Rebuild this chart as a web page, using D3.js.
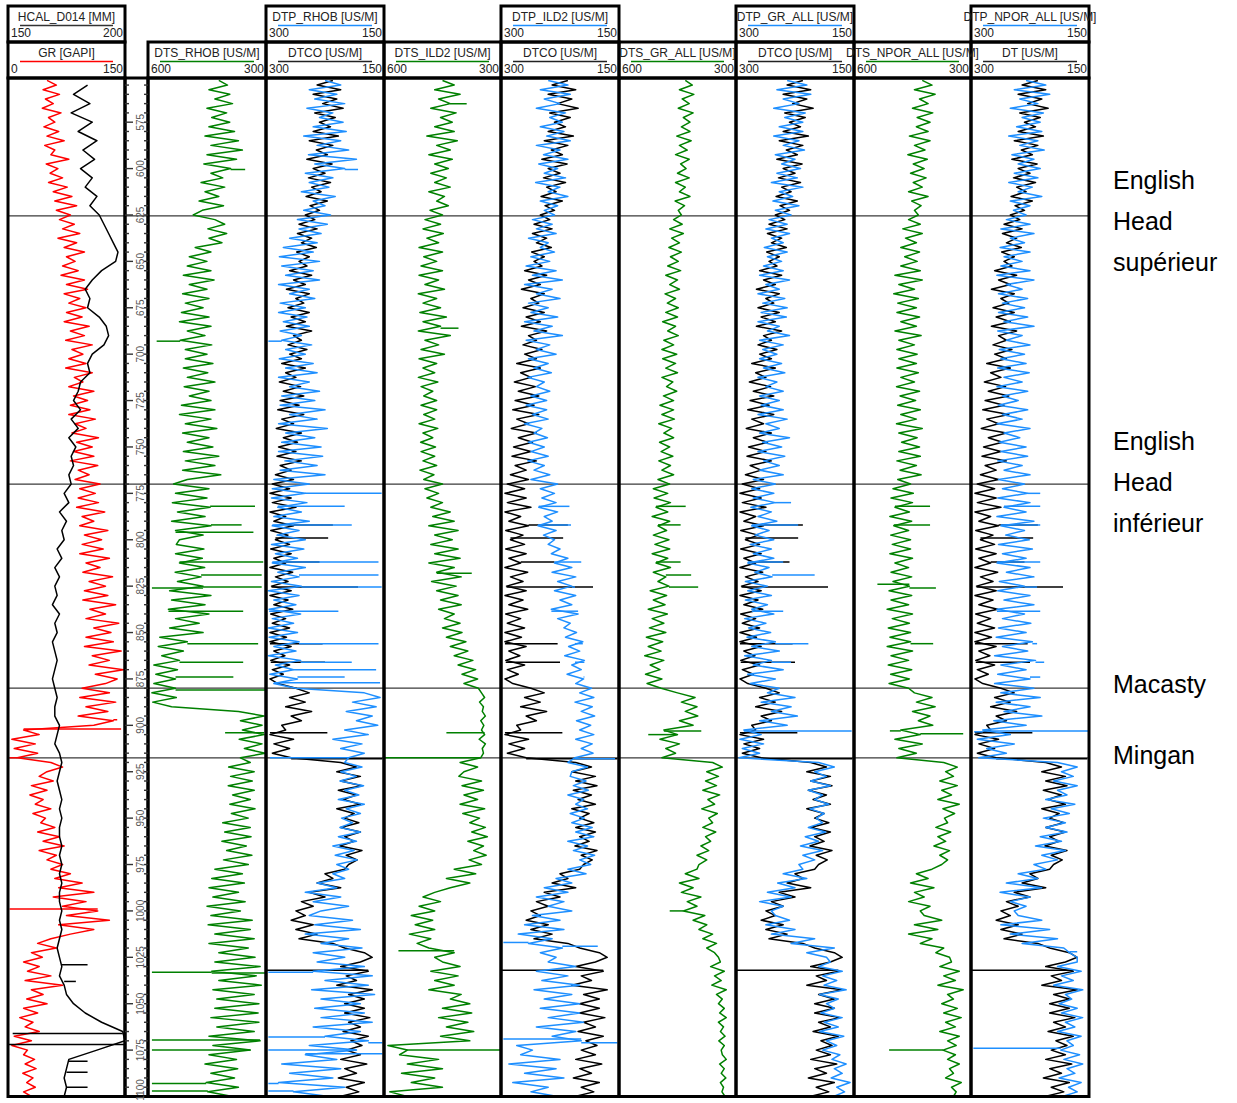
<!DOCTYPE html>
<html>
<head>
<meta charset="utf-8">
<script src="https://cdn.jsdelivr.net/npm/d3@7"></script>
<style>
  body { margin: 0; background: #fff; }
  svg text { font-family: "Liberation Sans", Arial, sans-serif; }
</style>
</head>
<body>
<svg id="chart" width="1237" height="1103"></svg>
<script>
// sonic logs sampled every 2.5 m from 552.5 m, caliper every 5 m from 555 m
const fineTop = 552.5, fineStep = 2.5;
const calTop = 555, calStep = 5;

const GR = [
  50,62,45,66,48,58,44,68,52,60, 46,65,50,72,47,60,55,78,49,64, 54,70,52,76,58,82,60,88,62,80,
  66,85,70,92,64,88,72,98,75,86, 70,90,68,98,75,102,72,92,78,100, 75,95,72,104,80,98,74,108,82,96,
  78,100,74,108,85,96,78,110,84,102, 80,105,78,112,86,100,82,116,88,108, 84,110,80,115,90,104,86,118,92,112,
  90,116,88,124,95,110,92,128,98,120, 95,122,92,130,100,118,96,134,104,125, 98,128,96,138,105,125,100,142,110,132,
  100,135,98,145,108,130,104,148,112,140, 125,95,130,92,138,100,128,90,135,110, 20,40,5,35,8,38,12,55,70,50,
  40,58,30,50,28,45,35,55,32,48, 42,60,38,66,45,72,40,62,50,70, 55,80,60,95,65,110,58,100,70,115,
  75,130,65,110,80,55,38,62,30,44, 20,40,25,55,22,70,30,45,24,50, 20,38,15,32,22,40,8,30,5,25,
  20,34,22,36,19,32,24,35,20,30];
const HCAL = [184,178,185, 177,186,180,188, 182,187,181, 186,183,188,185,189, 191,193,195,
  197,196,190, 186,183,185, 184,189,192, 193,191,186, 184,185,181,
  180,178,181,177,180,176,179,177,178,176, 177,174,176,172,175,173, 174,171,173,170,172,170,
  171,169,172,170,171,169, 170,171,170,169,170,171,170,170,172,171,170,172,
  173,172,171,172,173,172,173,172,172,173,172,173,172,173,172,172,173,
  172,173,172,171,172,173, 172,174,175, 178,183,190, 199,200, 188,176,175, 174,175,174];
const DTS_RHOB = [
  420,398,445,392,430,385,450,400,438,392, 445,380,455,370,440,360,450,375,458,390,
  440,410,465,405,455,420,470,408,462,485, 430,405,448,400,445,412,480,440,495,450,
  500,440,510,432,495,450,512,445,505,460, 515,445,520,440,500,455,518,438,505,450,
  505,435,510,448,500,430,508,445,495,440, 515,430,520,440,505,425,512,445,500,435,
  510,420,505,430,512,415,500,535,445,530, 450,538,442,525,455,540,440,530,460,520,
  528,458,530,462,520,456,531,465,525,460, 545,440,540,455,548,445,530,470,545,460,
  570,500,574,510,565,520,585,525,580,530, 585,530,590,528,588,540,370,305,365,310,
  360,305,368,310,355,302,365,340,395,330, 390,335,396,330,385,340,392,328,388,345,
  410,340,405,338,412,350,400,336,408,345, 430,360,438,355,445,370,435,353,450,365,
  440,335,447,340,430,330,445,345,420,328, 430,315,438,325,420,312,435,330,425,318,
  430,320,440,318,425,330,445,315,435,340, 445,375,455,372,440,380,452,370,448,385];
const DTCO = [
  215,235,205,240,210,228,202,238,212,232, 218,240,208,245,215,236,222,248,216,240,
  225,246,218,242,230,249,222,244,232,250, 238,258,235,260,242,255,236,261,245,258,
  248,270,242,265,250,274,245,262,252,272, 245,268,250,274,242,265,255,272,248,270,
  255,280,250,275,262,283,256,278,252,282, 258,285,252,280,265,287,255,278,260,284,
  262,286,255,282,268,288,265,292,270,295, 268,292,262,295,275,290,265,294,272,288,
  270,294,268,290,275,295,266,288,272,293, 268,295,272,290,266,294,275,292,270,295,
  274,295,268,290,276,294,270,292,278,295, 285,262,245,270,250,275,242,268,255,280,
  275,295,265,290,270,292,268,205,185,210, 180,205,178,208,185,202,180,210,188,200,
  182,205,180,200,188,206,178,198,184,195, 200,225,215,235,205,245,225,255,240,262,
  250,268,240,262,235,258,215,200,175,165, 180,205,170,198,185,210,165,195,175,200,
  175,200,168,195,180,202,170,192,178,198, 180,205,172,200,185,208,175,198,182,206];
const DTP_RHOB = [
  225,205,245,210,238,200,248,215,232,202, 240,198,252,205,235,195,246,185,238,200,
  250,215,245,220,255,212,240,225,252,218, 260,222,258,230,270,235,278,240,283,232,
  280,240,275,232,284,245,270,238,282,250, 284,248,278,245,282,255,280,242,275,250,
  283,240,275,235,284,245,270,232,280,238, 282,225,270,235,284,222,275,238,280,230,
  284,228,276,235,282,225,290,245,292,250, 293,248,285,255,290,245,292,258,286,250,
  293,252,288,260,292,250,285,258,293,255, 297,258,290,262,296,256,292,265,297,260,
  296,258,290,262,297,256,288,265,295,260, 290,262,175,155,190,160,198,165,185,158,
  200,170,215,178,205,175,195,200,178,205, 185,206,176,200,182,208,175,198,180,204,
  190,206,180,208,185,215,188,212,184,210, 195,215,200,235,210,250,205,240,195,230,
  245,190,238,180,250,195,230,178,240,200, 235,175,240,165,225,170,242,162,230,180,
  238,175,230,165,240,180,225,170,245,185, 250,210,280,205,270,215,284,200,265,220];
const DTS_ILD2 = [
  450,420,470,405,460,430,480,415,455,425, 470,420,490,412,465,430,485,425,470,435,
  480,440,470,430,485,445,465,435,482,450, 495,455,500,448,490,460,510,450,498,465,
  505,450,510,460,495,445,512,465,500,455, 508,440,500,455,512,430,495,460,505,445,
  510,465,500,470,512,462,505,475,498,465, 505,465,498,470,510,462,500,475,506,468,
  505,470,500,465,508,472,498,450,495,460, 490,450,480,430,475,420,485,410,470,425,
  480,410,470,405,485,420,465,402,478,415, 465,410,455,402,460,420,445,405,450,400,
  440,390,430,385,420,372,410,365,400,360, 395,358,350,342,355,345,348,340,352,344,
  350,342,356,340,348,345,352,405,360,395, 408,350,400,345,395,360,405,342,398,355,
  380,340,375,335,385,345,370,338,382,350, 420,365,440,380,430,470,500,455,510,470,
  530,475,520,470,535,480,515,485,420,470, 450,405,480,410,470,420,485,402,430,380,
  450,375,460,385,440,370,455,380,590,540, 560,460,540,450,555,470,530,450,585,540];
const DTP_ILD2 = [
  240,215,250,212,245,225,255,218,238,222, 250,220,242,212,255,225,246,215,252,228,
  245,218,256,225,240,215,250,228,245,232, 260,235,255,230,265,240,250,232,262,238,
  268,230,260,222,270,235,255,225,265,240, 262,228,270,235,258,222,268,238,255,230,
  265,240,258,236,266,245,255,238,262,242, 268,242,260,240,270,248,258,241,265,245,
  262,240,266,245,258,238,262,228,250,232, 248,230,252,228,245,235,253,230,246,232,
  240,225,236,215,232,210,235,205,228,210, 232,205,225,210,236,202,228,212,220,204,
  218,196,214,200,219,194,210,198,216,195, 205,185,200,182,206,184,198,181,204,186,
  200,182,205,184,198,183,206,215,190,210, 212,192,208,189,215,195,205,190,212,194,
  210,184,205,182,215,190,208,181,200,186, 215,192,230,210,245,215,255,220,240,210,
  260,225,270,220,278,235,265,222,250,230, 240,205,255,215,248,200,258,210,245,200,
  250,200,240,195,255,205,235,198,280,260, 275,225,290,230,270,220,285,240,262,228];
const DTS_GR_ALL = [
  430,412,445,408,438,420,448,410,435,418, 440,418,452,415,445,425,455,420,442,428,
  450,420,455,430,445,418,456,432,448,440, 460,438,470,435,465,445,472,440,468,448,
  475,442,480,450,470,445,482,455,476,448, 480,450,488,455,475,448,485,460,490,452,
  488,455,480,450,490,462,478,452,486,460, 495,460,490,458,498,465,485,460,496,470,
  492,462,498,468,490,460,500,470,512,475, 510,468,505,475,515,470,500,478,512,472,
  508,470,515,475,505,468,512,480,500,472, 520,478,512,482,525,476,515,485,522,480,
  530,488,525,492,534,485,520,495,532,490, 528,492,450,405,440,400,430,398,445,410,
  485,450,495,445,480,455,490,360,335,375, 345,378,350,385,342,372,355,388,348,370,
  360,385,352,378,365,390,370,400,375,395, 400,430,395,445,410,440,390,425,400,435,
  380,410,375,395,360,385,350,375,355,345, 340,365,330,355,338,362,325,350,335,345,
  330,342,325,345,332,340,328,344,330,338, 335,325,342,330,338,326,340,332,336,328];
const DTP_GR_ALL = [
  235,210,248,205,240,220,252,212,238,215, 245,215,252,220,240,213,250,225,242,218,
  248,222,255,215,245,228,253,220,250,230, 258,235,262,232,255,240,264,235,260,242,
  265,240,270,232,262,245,272,238,266,235, 268,236,272,245,260,232,270,240,266,248,
  270,242,265,238,272,248,262,240,270,245, 268,240,272,235,262,245,270,232,266,242,
  272,238,265,245,270,240,278,250,280,252, 278,250,281,255,272,248,280,258,276,252,
  282,255,278,252,285,258,276,254,288,260, 285,255,288,260,280,252,289,262,284,256,
  286,250,280,245,289,255,278,240,285,250, 282,245,260,225,268,230,255,222,270,235,
  290,268,295,265,292,270,296,195,175,200, 185,205,180,208,190,200,182,206,188,198,
  190,208,186,212,195,218,190,215,200,220, 215,240,210,247,225,260,230,270,240,255,
  250,232,262,225,255,200,230,175,210,185, 180,195,165,190,172,188,160,194,170,185,
  175,192,165,188,170,194,163,185,172,190, 168,178,160,175,165,179,155,172,162,176];
const DTS_NPOR_ALL = [
  425,400,445,392,432,410,450,398,438,405, 440,410,458,405,445,418,462,412,448,420,
  455,415,448,425,460,410,452,428,445,435, 460,430,475,425,468,440,480,432,470,438,
  480,430,495,425,485,445,498,435,488,440, 490,432,480,440,495,428,485,445,490,438,
  485,440,490,435,480,445,491,432,482,442, 488,430,480,440,491,425,485,438,478,432,
  485,430,490,440,482,428,488,455,500,448, 505,450,495,458,508,452,498,460,506,455,
  502,455,508,450,495,460,505,452,500,458, 510,452,505,460,515,450,502,458,512,455,
  508,455,515,450,505,460,512,452,506,458, 510,460,445,400,440,392,450,405,435,398,
  480,430,495,425,485,440,490,370,335,365, 345,380,335,375,350,385,330,372,342,368,
  360,390,352,385,365,395,355,380,360,375, 400,440,410,455,395,445,420,460,405,430,
  420,375,445,385,460,400,430,370,390,355, 350,380,330,370,340,385,320,360,345,375,
  335,370,325,365,340,380,330,360,338,372, 340,360,330,355,345,365,325,350,338,345];
const DTP_NPOR_ALL = [
  230,205,245,200,238,215,250,208,235,212, 242,210,252,215,238,207,248,220,240,212,
  245,215,252,222,240,210,250,225,246,230, 255,225,262,220,250,232,263,225,258,235,
  262,225,267,220,255,235,265,228,260,232, 265,228,258,220,266,235,255,225,264,232,
  262,230,266,226,258,235,267,228,260,240, 265,228,260,235,267,225,258,238,264,230,
  262,228,266,235,258,225,265,232,260,228, 266,225,258,230,267,220,262,232,256,226,
  265,222,260,230,267,225,255,220,264,232, 266,225,258,220,267,232,260,224,265,230,
  268,222,260,228,270,218,262,230,266,225, 270,220,262,212,268,225,258,210,271,230,
  285,250,292,245,280,255,290,190,165,185, 170,195,165,190,178,205,168,198,175,208,
  180,205,178,212,185,218,180,210,190,220, 205,240,215,255,210,263,225,250,230,245,
  240,210,262,200,250,190,235,182,175,165, 165,190,160,185,170,195,158,180,172,188,
  165,185,158,180,168,190,160,178,170,186, 162,182,158,178,168,188,160,176,165,184];

// isolated one-sample excursions: [depth, value]
const GR_SPIKES = [[897,140],[902,145],[917.5,2],[999,2]];
const HCAL_SPIKES = [[1029,184],[1038,179],[1066,152],[1072,150],[1081,184],[1087,184],[1095,184]];
const DTS_RHOB_SPIKES = [[600.5,353],[693,578],[782,328],[792,362],[796,332],[812,307],[819,311],
  [825.5,311],[826,590],[838.5,358],[856,320],[866,358],[874,383],[881,302],[904,404],
  [1033,590],[1033.5,302],[1069.5,590],[1075,590],[1093,590],[1097,590]];
const DTCO_SPIKES = [[792,215],[799,221],[812,232],[825.5,183],[856,228],[866,225],[904,222],[918,152],[1032,300]];
const DTP_RHOB_SPIKES = [[600.5,183],[693,297],[775,153],[782,200],[792,191],[812,157],[819,157],
  [825.5,153],[838.5,208],[856,157],[866,191],[870,160],[874,200],[877,155],[917.5,295],
  [1033,297],[1068,297],[1071,152],[1075,297],[1077,152],[1093,297],[1097,297]];
const DTS_ILD2_SPIKES = [[565,388],[686,409],[818,375],[904,440],[917.5,598],[1021.5,563],[1075,302]];
const DTP_ILD2_SPIKES = [[782,213],[792,211],[812,198],[825.5,206],[838.5,202],[856,206],[866,206],
  [874,194],[918,155],[1017,297],[1019,177],[1069,297],[1071,152]];
const DTS_GR_ALL_SPIKES = [[782,429],[792,442],[812,442],[819,415],[825.5,397],[903,389],[905,525],[1000,470]];
const DTP_GR_ALL_SPIKES = [[780,230],[792,221],[812,240],[819,200],[838.5,240],[856,208],[866,230],[903,153]];
const DTS_NPOR_ALL_SPIKES = [[782,405],[792,405],[824,540],[826,390],[856,397],[903,508],[904.5,320],[1075,510]];
const DTP_NPOR_ALL_SPIKES = [[775,212],[782,212],[792,212],[812,212],[825.5,216],[838.5,212],[856,216],
  [866,207],[874,212],[903,150],[903.5,296],[1022,165],[1074,297]];

const topDepths = [625.5, 770, 880, 917.5];
const depthLabels = [575,600,625,650,675,700,725,750,775,800,825,850,875,900,925,950,975,1000,1025,1050,1075,1100];
const zoneLabels = [
  { lines: ["English", "Head", "supérieur"], y: 189 },
  { lines: ["English", "Head", "inférieur"], y: 450 },
  { lines: ["Macasty"], y: 693 },
  { lines: ["Mingan"], y: 764 }
];

const RED = "#ff0000", BLACK = "#000000", GREEN = "#008000", BLUE = "#1e8fff";
const fine = { t0: fineTop, step: fineStep };
const cal = { t0: calTop, step: calStep };

const tracks = [
  { x0: 8, x1: 125,
    top: { name: "HCAL_D014 [MM]", color: "#333", lo: "150", hi: "200" },
    bottom: { name: "GR [GAPI]", color: RED, lo: "0", hi: "150" },
    curves: [
      { vals: GR, spikes: GR_SPIKES, grid: fine, dom: [0, 150], color: RED },
      { vals: HCAL, spikes: HCAL_SPIKES, grid: cal, dom: [150, 200], color: BLACK }
    ] },
  { x0: 148, x1: 266,
    bottom: { name: "DTS_RHOB [US/M]", color: GREEN, lo: "600", hi: "300" },
    curves: [{ vals: DTS_RHOB, spikes: DTS_RHOB_SPIKES, grid: fine, dom: [600, 300], color: GREEN }] },
  { x0: 266, x1: 384,
    top: { name: "DTP_RHOB [US/M]", color: BLUE, lo: "300", hi: "150" },
    bottom: { name: "DTCO [US/M]", color: "#222", lo: "300", hi: "150" },
    curves: [
      { vals: DTCO, spikes: DTCO_SPIKES, grid: fine, dom: [300, 150], color: BLACK },
      { vals: DTP_RHOB, spikes: DTP_RHOB_SPIKES, grid: fine, dom: [300, 150], color: BLUE }
    ] },
  { x0: 384, x1: 501,
    bottom: { name: "DTS_ILD2 [US/M]", color: GREEN, lo: "600", hi: "300" },
    curves: [{ vals: DTS_ILD2, spikes: DTS_ILD2_SPIKES, grid: fine, dom: [600, 300], color: GREEN }] },
  { x0: 501, x1: 619,
    top: { name: "DTP_ILD2 [US/M]", color: BLUE, lo: "300", hi: "150" },
    bottom: { name: "DTCO [US/M]", color: "#222", lo: "300", hi: "150" },
    curves: [
      { vals: DTCO, spikes: DTCO_SPIKES, grid: fine, dom: [300, 150], color: BLACK },
      { vals: DTP_ILD2, spikes: DTP_ILD2_SPIKES, grid: fine, dom: [300, 150], color: BLUE }
    ] },
  { x0: 619, x1: 736,
    bottom: { name: "DTS_GR_ALL [US/M]", color: GREEN, lo: "600", hi: "300" },
    curves: [{ vals: DTS_GR_ALL, spikes: DTS_GR_ALL_SPIKES, grid: fine, dom: [600, 300], color: GREEN }] },
  { x0: 736, x1: 854,
    top: { name: "DTP_GR_ALL [US/M]", color: BLUE, lo: "300", hi: "150" },
    bottom: { name: "DTCO [US/M]", color: "#222", lo: "300", hi: "150" },
    curves: [
      { vals: DTCO, spikes: DTCO_SPIKES, grid: fine, dom: [300, 150], color: BLACK },
      { vals: DTP_GR_ALL, spikes: DTP_GR_ALL_SPIKES, grid: fine, dom: [300, 150], color: BLUE }
    ] },
  { x0: 854, x1: 971,
    bottom: { name: "DTS_NPOR_ALL [US/M]", color: GREEN, lo: "600", hi: "300" },
    curves: [{ vals: DTS_NPOR_ALL, spikes: DTS_NPOR_ALL_SPIKES, grid: fine, dom: [600, 300], color: GREEN }] },
  { x0: 971, x1: 1089,
    top: { name: "DTP_NPOR_ALL [US/M]", color: BLUE, lo: "300", hi: "150" },
    bottom: { name: "DT [US/M]", color: "#222", lo: "300", hi: "150" },
    curves: [
      { vals: DTCO, spikes: DTCO_SPIKES, grid: fine, dom: [300, 150], color: BLACK },
      { vals: DTP_NPOR_ALL, spikes: DTP_NPOR_ALL_SPIKES, grid: fine, dom: [300, 150], color: BLUE }
    ] }
];

const svg = d3.select("#chart");
const defs = svg.append("defs");
const yTop = 79.5, yBot = 1096.5;
const y = d3.scaleLinear().domain([552, 1100]).range([yTop, yBot]);

// formation tops
svg.append("g").selectAll("line").data(topDepths).join("line")
  .attr("x1", 8).attr("x2", 1089)
  .attr("y1", d => y(d)).attr("y2", d => y(d))
  .attr("stroke", "#3a3a3a").attr("stroke-width", 1.3);

// curves
tracks.forEach((t, ti) => {
  defs.append("clipPath").attr("id", "clip" + ti)
    .append("rect").attr("x", t.x0).attr("y", yTop).attr("width", t.x1 - t.x0).attr("height", yBot - yTop);
  const g = svg.append("g").attr("clip-path", `url(#clip${ti})`);
  t.curves.forEach(c => {
    const x = d3.scaleLinear().domain(c.dom).range([t.x0, t.x1]);
    const line = d3.line().x(d => x(d[1])).y(d => y(d[0]));
    g.append("path")
      .datum(c.vals.map((v, i) => [c.grid.t0 + i * c.grid.step, v]))
      .attr("d", line)
      .attr("fill", "none")
      .attr("stroke", c.color)
      .attr("stroke-width", 1.5)
      .attr("stroke-linejoin", "round");
    g.selectAll(null).data(c.spikes).join("line")
      .attr("x1", d => {
        const i = Math.max(0, Math.min(c.vals.length - 1, Math.round((d[0] - c.grid.t0) / c.grid.step)));
        return x(c.vals[i]);
      })
      .attr("x2", d => x(d[1]))
      .attr("y1", d => y(d[0])).attr("y2", d => y(d[0]))
      .attr("stroke", c.color).attr("stroke-width", 1.5);
  });
});

// headers
function header(x0, x1, top, h) {
  const g = svg.append("g");
  const cx = (x0 + x1) / 2;
  g.append("text").attr("x", cx).attr("y", top + 14.5).attr("text-anchor", "middle")
    .attr("font-size", 12).attr("fill", "#222").text(h.name);
  g.append("line").attr("x1", x0 + 12).attr("x2", x1 - 12)
    .attr("y1", top + 19.5).attr("y2", top + 19.5)
    .attr("stroke", h.color).attr("stroke-width", 1.6);
  g.append("text").attr("x", x0 + 3).attr("y", top + 31).attr("font-size", 12).attr("fill", "#222").text(h.lo);
  g.append("text").attr("x", x1 - 2).attr("y", top + 31).attr("text-anchor", "end")
    .attr("font-size", 12).attr("fill", "#222").text(h.hi);
}

const frame = svg.append("g").attr("fill", "none").attr("stroke", "#000").attr("stroke-width", 3);
tracks.forEach(t => {
  if (t.top) {
    header(t.x0, t.x1, 6, t.top);
    frame.append("rect").attr("x", t.x0).attr("y", 6).attr("width", t.x1 - t.x0).attr("height", 36);
  }
  header(t.x0, t.x1, 42, t.bottom);
  frame.append("rect").attr("x", t.x0).attr("y", 42).attr("width", t.x1 - t.x0).attr("height", 36);
  frame.append("rect").attr("x", t.x0).attr("y", 78).attr("width", t.x1 - t.x0).attr("height", yBot - 78);
});

// depth track
const dx0 = 125, dx1 = 148;
frame.append("rect").attr("x", dx0).attr("y", 78).attr("width", dx1 - dx0).attr("height", yBot - 78);
const depthTicks = y.ticks(110).filter(d => d > 552 && d < 1100);
const dg = svg.append("g").attr("stroke", "#333").attr("stroke-width", 1.4);
dg.selectAll(".tl").data(depthTicks).join("line")
  .attr("x1", dx0).attr("x2", d => dx0 + (d % 25 === 0 ? 8 : 4))
  .attr("y1", d => y(d)).attr("y2", d => y(d));
dg.selectAll(".tr").data(depthTicks).join("line")
  .attr("x1", dx1 - 4).attr("x2", dx1)
  .attr("y1", d => y(d)).attr("y2", d => y(d));
svg.append("g").selectAll("text").data(depthLabels)
  .join("text")
  .attr("transform", d => `translate(${dx0 + 15},${Math.min(y(d), 1090)}) rotate(-90)`)
  .attr("text-anchor", "middle").attr("dy", "0.35em")
  .attr("font-size", 10).attr("fill", "#555")
  .text(d => d);

// zone names
zoneLabels.forEach(z => {
  z.lines.forEach((s, i) => {
    svg.append("text").attr("x", 1113).attr("y", z.y + i * 41)
      .attr("font-family", "Lato, 'Open Sans', sans-serif").attr("font-size", 25)
      .attr("fill", "#000").text(s);
  });
});
</script>
</body>
</html>
